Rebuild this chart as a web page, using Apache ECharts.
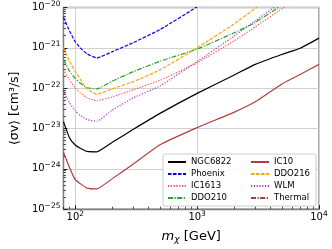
<!DOCTYPE html>
<html><head><meta charset="utf-8">
<script src="https://cdn.jsdelivr.net/npm/echarts@6/dist/echarts.min.js"></script>
<style>html,body{margin:0;padding:0;background:#fff}#c{width:332px;height:249px}</style>
</head><body><div id="c"></div>
<script>
// Dark matter mass [GeV]
const masses = [80, 90, 100, 110, 125, 150, 200, 300, 500, 1000, 2000, 3000, 5000, 7000, 10000];
// <sigma v> upper limits [cm^3/s]
const NGC6822 = [1.48e-23, 5.75e-24, 3.89e-24, 3.24e-24, 2.69e-24, 2.63e-24, 4.47e-24, 9.55e-24, 2.40e-23, 7.41e-23, 2.09e-22, 3.89e-22, 6.92e-22, 9.77e-22, 1.74e-21];
const Phoenix = [5.75e-21, 2.57e-21, 1.41e-21, 1.0e-21, 7.08e-22, 5.62e-22, 7.94e-22, 1.35e-21, 2.88e-21, 1.05e-20, 5.0e-20, 1.26e-19, 3.98e-19, 7.94e-19, 1.58e-18];
const IC1613 = [2.88e-22, 1.58e-22, 1.0e-22, 7.59e-23, 5.75e-23, 4.90e-23, 6.03e-23, 9.12e-23, 1.58e-22, 4.27e-22, 1.48e-21, 3.31e-21, 9.55e-21, 2.0e-20, 5.0e-20];
const DDO210 = [5.13e-22, 2.57e-22, 1.74e-22, 1.32e-22, 1.02e-22, 9.55e-23, 1.48e-22, 2.57e-22, 4.68e-22, 9.33e-22, 2.34e-21, 4.27e-21, 1.17e-20, 2.51e-20, 6.31e-20];
const IC10 = [2.57e-24, 1.05e-24, 5.37e-25, 4.27e-25, 3.31e-25, 3.16e-25, 5.62e-25, 1.32e-24, 3.98e-24, 1.05e-23, 2.51e-23, 4.57e-23, 1.29e-22, 2.19e-22, 3.89e-22];
const DDO216 = [1.0e-21, 4.57e-22, 2.57e-22, 1.66e-22, 9.55e-23, 7.08e-23, 9.55e-23, 1.45e-22, 2.88e-22, 1.0e-21, 3.89e-21, 9.55e-21, 3.55e-20, 7.94e-20, 2.0e-19];
const WLM = [8.51e-23, 4.27e-23, 2.75e-23, 2.09e-23, 1.66e-23, 1.51e-23, 2.82e-23, 5.75e-23, 1.15e-22, 4.57e-22, 1.95e-21, 4.68e-21, 1.41e-20, 3.16e-20, 7.94e-20];
const thermalMasses = [80, 10000];
const Thermal = [2.2e-26, 2.2e-26];

// axis ticks
const xMin = 80, xMax = 10000;
const xMajorTicks = [100, 1000, 10000];
const xMinorTicks = [80, 90, 200, 300, 400, 500, 600, 700, 800, 900, 2000, 3000, 4000, 5000, 6000, 7000, 8000, 9000];
const yMajorTicks = [1e-25, 1e-24, 1e-23, 1e-22, 1e-21, 1e-20];
const yMinorMult = [2, 3, 4, 5, 6, 7, 8, 9];

const L = v => Math.log10(v);
const yMinorTicks = [];
for (let e = -25; e < -20; e++) yMinorMult.forEach(k => yMinorTicks.push(L(k) + e));

const FONT = 'DejaVu Sans';
const supLabel = e => '{b|10}{s|' + String(e).replace('-', '\u2212') + '}';
const labelRich = {
  b: {fontSize: 10, fontFamily: FONT, color: '#000', lineHeight: 15},
  s: {fontSize: 7.5, fontFamily: FONT, color: '#000', lineHeight: 8, padding: [0, 0, 7, 0]}
};

function mk(name, xs, ys, color, type) {
  return {
    name, type: 'line', symbol: 'none', smooth: 0.15, clip: true,
    data: xs.map((m, i) => [L(m), L(ys[i])]),
    lineStyle: {color, type, width: 1.2},
    itemStyle: {color}
  };
}
const dashed = [3.5, 1.5], dotted = [1.2, 1.6], dashdot = [5, 1.5, 1.2, 1.5];
const series = [
  mk('NGC6822', masses, NGC6822, '#000000', 'solid'),
  mk('Phoenix', masses, Phoenix, '#0000ff', dashed),
  mk('IC1613', masses, IC1613, '#ff4a4a', dotted),
  mk('DDO210', masses, DDO210, '#2ca02c', dashdot),
  mk('IC10', masses, IC10, '#b23c3c', 'solid'),
  mk('DDO216', masses, DDO216, '#ffa500', dashed),
  mk('WLM', masses, WLM, '#b23ac4', dotted),
  mk('Thermal', thermalMasses, Thermal, '#a0403c', dashdot)
];

const legendCommon = {
  orient: 'vertical', padding: 0, itemWidth: 18, itemHeight: 10, itemGap: 2,
  selectedMode: false, z: 10,
  itemStyle: {opacity: 0},
  textStyle: {fontFamily: FONT, fontSize: 8.5, color: '#000', lineHeight: 10}
};

const chart = echarts.init(document.getElementById('c'), null, {renderer: 'canvas'});
chart.setOption({
  animation: false,
  backgroundColor: '#fff',
  grid: {left: 56, right: 13, top: 7, bottom: 37, show: true, borderColor: '#808080', borderWidth: 1.3, containLabel: false},
  graphic: [{
    type: 'rect', z: 9, shape: {x: 163, y: 154, width: 153, height: 52, r: 2},
    style: {fill: 'rgba(255,255,255,0.85)', stroke: '#cccccc', lineWidth: 1}
  }],
  legend: [
    Object.assign({left: 167, top: 157, data: ['NGC6822', 'Phoenix', 'IC1613', 'DDO210']}, legendCommon),
    Object.assign({left: 250, top: 157, data: ['IC10', 'DDO216', 'WLM', 'Thermal']}, legendCommon)
  ],
  xAxis: [{
    type: 'value', min: L(xMin), max: L(xMax), position: 'bottom',
    axisLine: {show: true, onZero: false, lineStyle: {color: '#808080', width: 1.3}},
    axisTick: {show: true, inside: true, length: 4, customValues: xMajorTicks.map(L), lineStyle: {color: '#222', width: 1}},
    axisLabel: {customValues: xMajorTicks.map(L), margin: 1, formatter: v => supLabel(Math.round(v)), rich: labelRich},
    splitLine: {show: true, lineStyle: {color: '#d0d0d0', width: 1}},
    name: '{i|m}{sub|\u03c7} [GeV]', nameLocation: 'middle', nameGap: 13,
    nameTextStyle: {fontFamily: FONT, fontSize: 13, color: '#000', rich: {
      i: {fontFamily: FONT, fontSize: 13, fontStyle: 'italic', color: '#000'},
      sub: {fontFamily: FONT, fontSize: 9, fontStyle: 'italic', color: '#000', padding: [6, 0, 0, 0]}
    }}
  }, {
    type: 'value', min: L(xMin), max: L(xMax), position: 'bottom',
    axisLine: {show: false, onZero: false},
    axisTick: {show: true, inside: true, length: 2.5, customValues: xMinorTicks.map(L), lineStyle: {color: '#222', width: 0.8}},
    axisLabel: {show: false}, splitLine: {show: false}
  }],
  yAxis: [{
    type: 'value', min: L(yMajorTicks[0]), max: L(yMajorTicks[yMajorTicks.length - 1]), interval: 1, position: 'left',
    axisLine: {show: true, onZero: false, lineStyle: {color: '#808080', width: 1.3}},
    axisTick: {show: true, inside: true, length: 4, lineStyle: {color: '#222', width: 1}},
    axisLabel: {margin: 3, formatter: v => supLabel(Math.round(v)), rich: labelRich},
    splitLine: {show: true, lineStyle: {color: '#d0d0d0', width: 1}},
    name: '\u27e8\u03c3v\u27e9 [cm\u00b3/s]', nameLocation: 'middle', nameGap: 38,
    nameTextStyle: {fontFamily: FONT, fontSize: 12.5, color: '#000'}
  }, {
    type: 'value', min: L(yMajorTicks[0]), max: L(yMajorTicks[yMajorTicks.length - 1]), position: 'left',
    axisLine: {show: false, onZero: false},
    axisTick: {show: true, inside: true, length: 2.5, customValues: yMinorTicks, lineStyle: {color: '#222', width: 0.8}},
    axisLabel: {show: false}, splitLine: {show: false}
  }],
  series
});
</script></body></html>
